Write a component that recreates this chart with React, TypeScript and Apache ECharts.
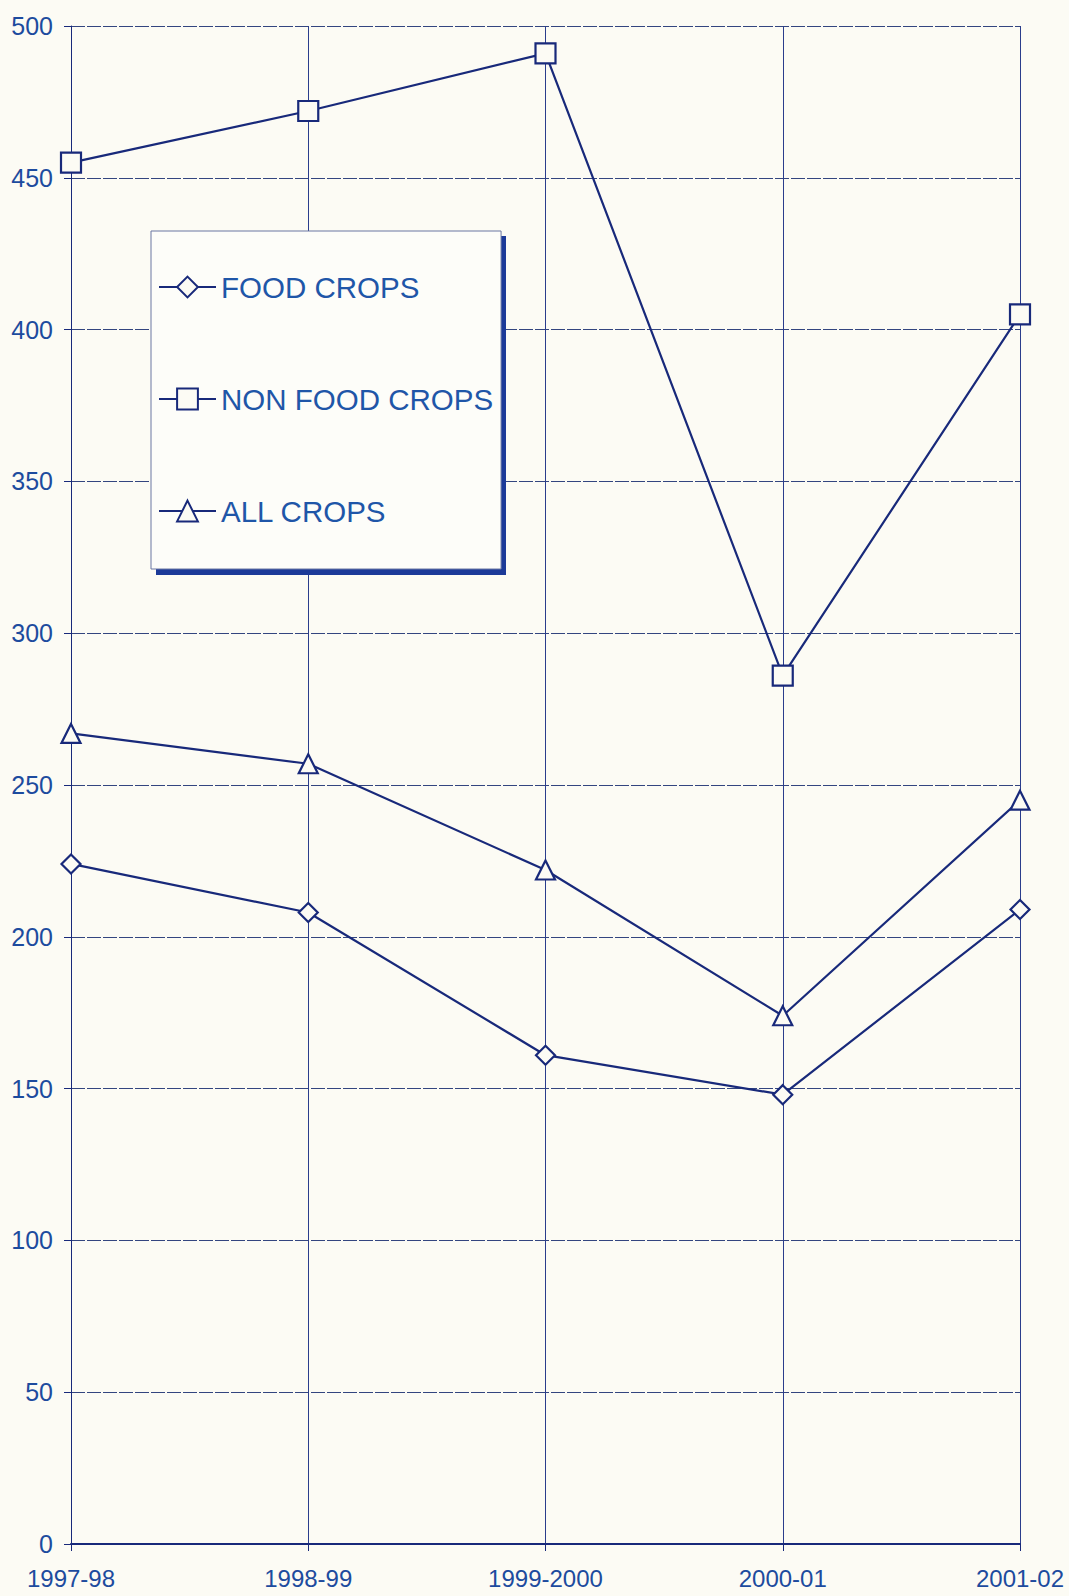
import React, { useEffect, useRef } from "react";
import * as echarts from "echarts";

const categories = ["1997-98", "1998-99", "1999-2000", "2000-01", "2001-02"];
const foodCrops = [224, 208, 161, 148, 209];
const nonFoodCrops = [455, 472, 491, 286, 405];
const allCrops = [267, 257, 222, 174, 245];
const seriesNames = ["FOOD CROPS", "NON FOOD CROPS", "ALL CROPS"];

const BG = "#fcfbf4";
const NAVY = "#18297a";
const LABEL = "#1d4b9e";
const FONT = "Liberation Sans, Arial, sans-serif";

export default function App() {
  const ref = useRef<HTMLDivElement>(null);
  useEffect(() => {
    if (!ref.current) return;
    const chart = echarts.init(ref.current, undefined, { renderer: "svg" });
    const mk = (name: string, data: number[], symbol: string, size: number) => ({
      name,
      type: "line",
      data,
      symbol,
      symbolSize: size,
      showAllSymbol: true,
      lineStyle: { color: NAVY, width: 2.2 },
      itemStyle: { color: BG, borderColor: NAVY, borderWidth: 2.2 },
      z: 5,
    });
    chart.setOption({
      animation: false,
      backgroundColor: BG,
      grid: { left: 71, right: 49, top: 26, bottom: 52, containLabel: false },
      xAxis: {
        type: "category",
        data: categories,
        boundaryGap: false,
        axisLine: { show: true, lineStyle: { color: NAVY, width: 2 } },
        axisTick: { show: true, inside: false, length: 7, lineStyle: { color: NAVY, width: 1 } },
        splitLine: { show: true, lineStyle: { color: "#2a3d8c", width: 1 } },
        axisLabel: { color: LABEL, fontSize: 24, fontFamily: FONT, margin: 22, interval: 0 },
      },
      yAxis: {
        type: "value",
        min: 0,
        max: 500,
        interval: 50,
        axisLine: { show: true, lineStyle: { color: NAVY, width: 1 } },
        axisTick: { show: true, inside: false, length: 7, lineStyle: { color: NAVY, width: 1 } },
        splitLine: { show: true, lineStyle: { color: "#33457f", width: 1, type: [14, 2] } },
        axisLabel: { color: LABEL, fontSize: 25, fontFamily: FONT, margin: 18 },
      },
      legend: {
        data: seriesNames,
        orient: "vertical",
        left: 151,
        top: 231,
        padding: [41, 8, 43, 7],
        itemWidth: 57,
        itemHeight: 26,
        itemGap: 82,
        backgroundColor: "#fdfdf9",
        borderColor: "#6a77a3",
        borderWidth: 1,
        textStyle: { color: "#1f56a8", fontSize: 29.5, fontFamily: FONT, lineHeight: 30 },
        z: 10,
      },
      graphic: [
        {
          type: "rect",
          z: 9,
          shape: { x: 156, y: 236, width: 350, height: 339 },
          style: { fill: "#1c3a98" },
        },
      ],
      series: [
        mk(seriesNames[0], foodCrops, "diamond", 19),
        mk(seriesNames[1], nonFoodCrops, "rect", 20),
        mk(seriesNames[2], allCrops, "triangle", 19),
      ],
    });
    return () => chart.dispose();
  }, []);
  return (
    <div
      ref={ref}
      style={{ position: "absolute", left: 0, top: 0, width: 1069, height: 1596 }}
    />
  );
}
